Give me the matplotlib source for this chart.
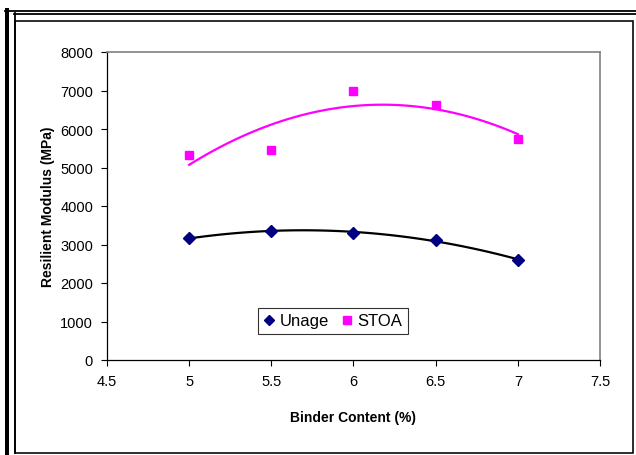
import matplotlib.pyplot as plt
import numpy as np
from matplotlib.lines import Line2D
from matplotlib.patches import Rectangle

plt.rcParams['font.family'] = ['Liberation Sans', 'DejaVu Sans']

# data
binder = [5.0, 5.5, 6.0, 6.5, 7.0]
unage = [3160, 3360, 3290, 3125, 2600]
stoa = [5330, 5460, 7000, 6630, 5740]

W, H = 636, 456
fig = plt.figure(figsize=(W / 100, H / 100), dpi=100)

def px(x, y):
    return x / W, 1 - y / H

# page frame (double lines top/left, box round the chart)
pt = 0.72
for (x0, y0), (x1, y1), lw in [((5, 11.5), (636, 11.5), 1.8),
                               ((14, 14.8), (636, 14.8), 1.8),
                               ((7, 11), (7, 456), 4.0),
                               ((15, 14), (15, 454), 1.8)]:
    a, b = px(x0, y0)
    c, d = px(x1, y1)
    fig.add_artist(Line2D([a, c], [b, d], color='black', lw=lw * pt,
                          transform=fig.transFigure))
l, t = px(15, 22)
r, bt = px(633, 454)
fig.add_artist(Rectangle((l, bt), r - l, t - bt, fill=False, ec='black',
                         lw=1.6 * pt, transform=fig.transFigure))

x0, y0 = px(107, 361)
x1, y1 = px(600, 53)
ax = fig.add_axes([x0, y0, x1 - x0, y1 - y0])

ax.plot(binder, unage, 'D', color='#000080', ms=6, label='Unage', zorder=4)
ax.plot(binder, stoa, 's', color='#FF00FF', ms=6, label='STOA', zorder=4)

# 2nd order polynomial trend lines
xs = np.linspace(min(binder), max(binder), 100)
ax.plot(xs, np.polyval(np.polyfit(binder, unage, 2), xs), color='black', lw=1.6, zorder=3)
ax.plot(xs, np.polyval(np.polyfit(binder, stoa, 2), xs), color='#FF00FF', lw=1.6, zorder=3)

ax.set_xlim(4.5, 7.5)
ax.set_ylim(0, 8000)
ax.set_xticks([4.5, 5, 5.5, 6, 6.5, 7, 7.5])
ax.set_xticklabels(['4.5', '5', '5.5', '6', '6.5', '7', '7.5'])
ax.set_yticks(range(0, 8001, 1000))
ax.tick_params(direction='out', length=4, width=0.8, labelsize=10.5, pad=6, colors='black')

for s in ['top', 'right']:
    ax.spines[s].set_color('#808080')
    ax.spines[s].set_linewidth(1.2)
for s in ['left', 'bottom']:
    ax.spines[s].set_color('black')
    ax.spines[s].set_linewidth(0.9)

ax.set_xlabel('Binder Content (%)', fontsize=10, fontweight='bold', labelpad=16)
ax.set_ylabel('Resilient Modulus (MPa)', fontsize=10, fontweight='bold', labelpad=4)

lx, ly = px(333, 322)
leg = ax.legend(loc='center', bbox_to_anchor=(lx, ly), bbox_transform=fig.transFigure,
                ncol=2, fontsize=12, frameon=True, fancybox=False, handlelength=0.6,
                handletextpad=0.3, columnspacing=0.8, borderpad=0.35, markerscale=0.85)
leg.get_frame().set_edgecolor('black')
leg.get_frame().set_linewidth(0.8)

fig.savefig('out.png', dpi=100)
